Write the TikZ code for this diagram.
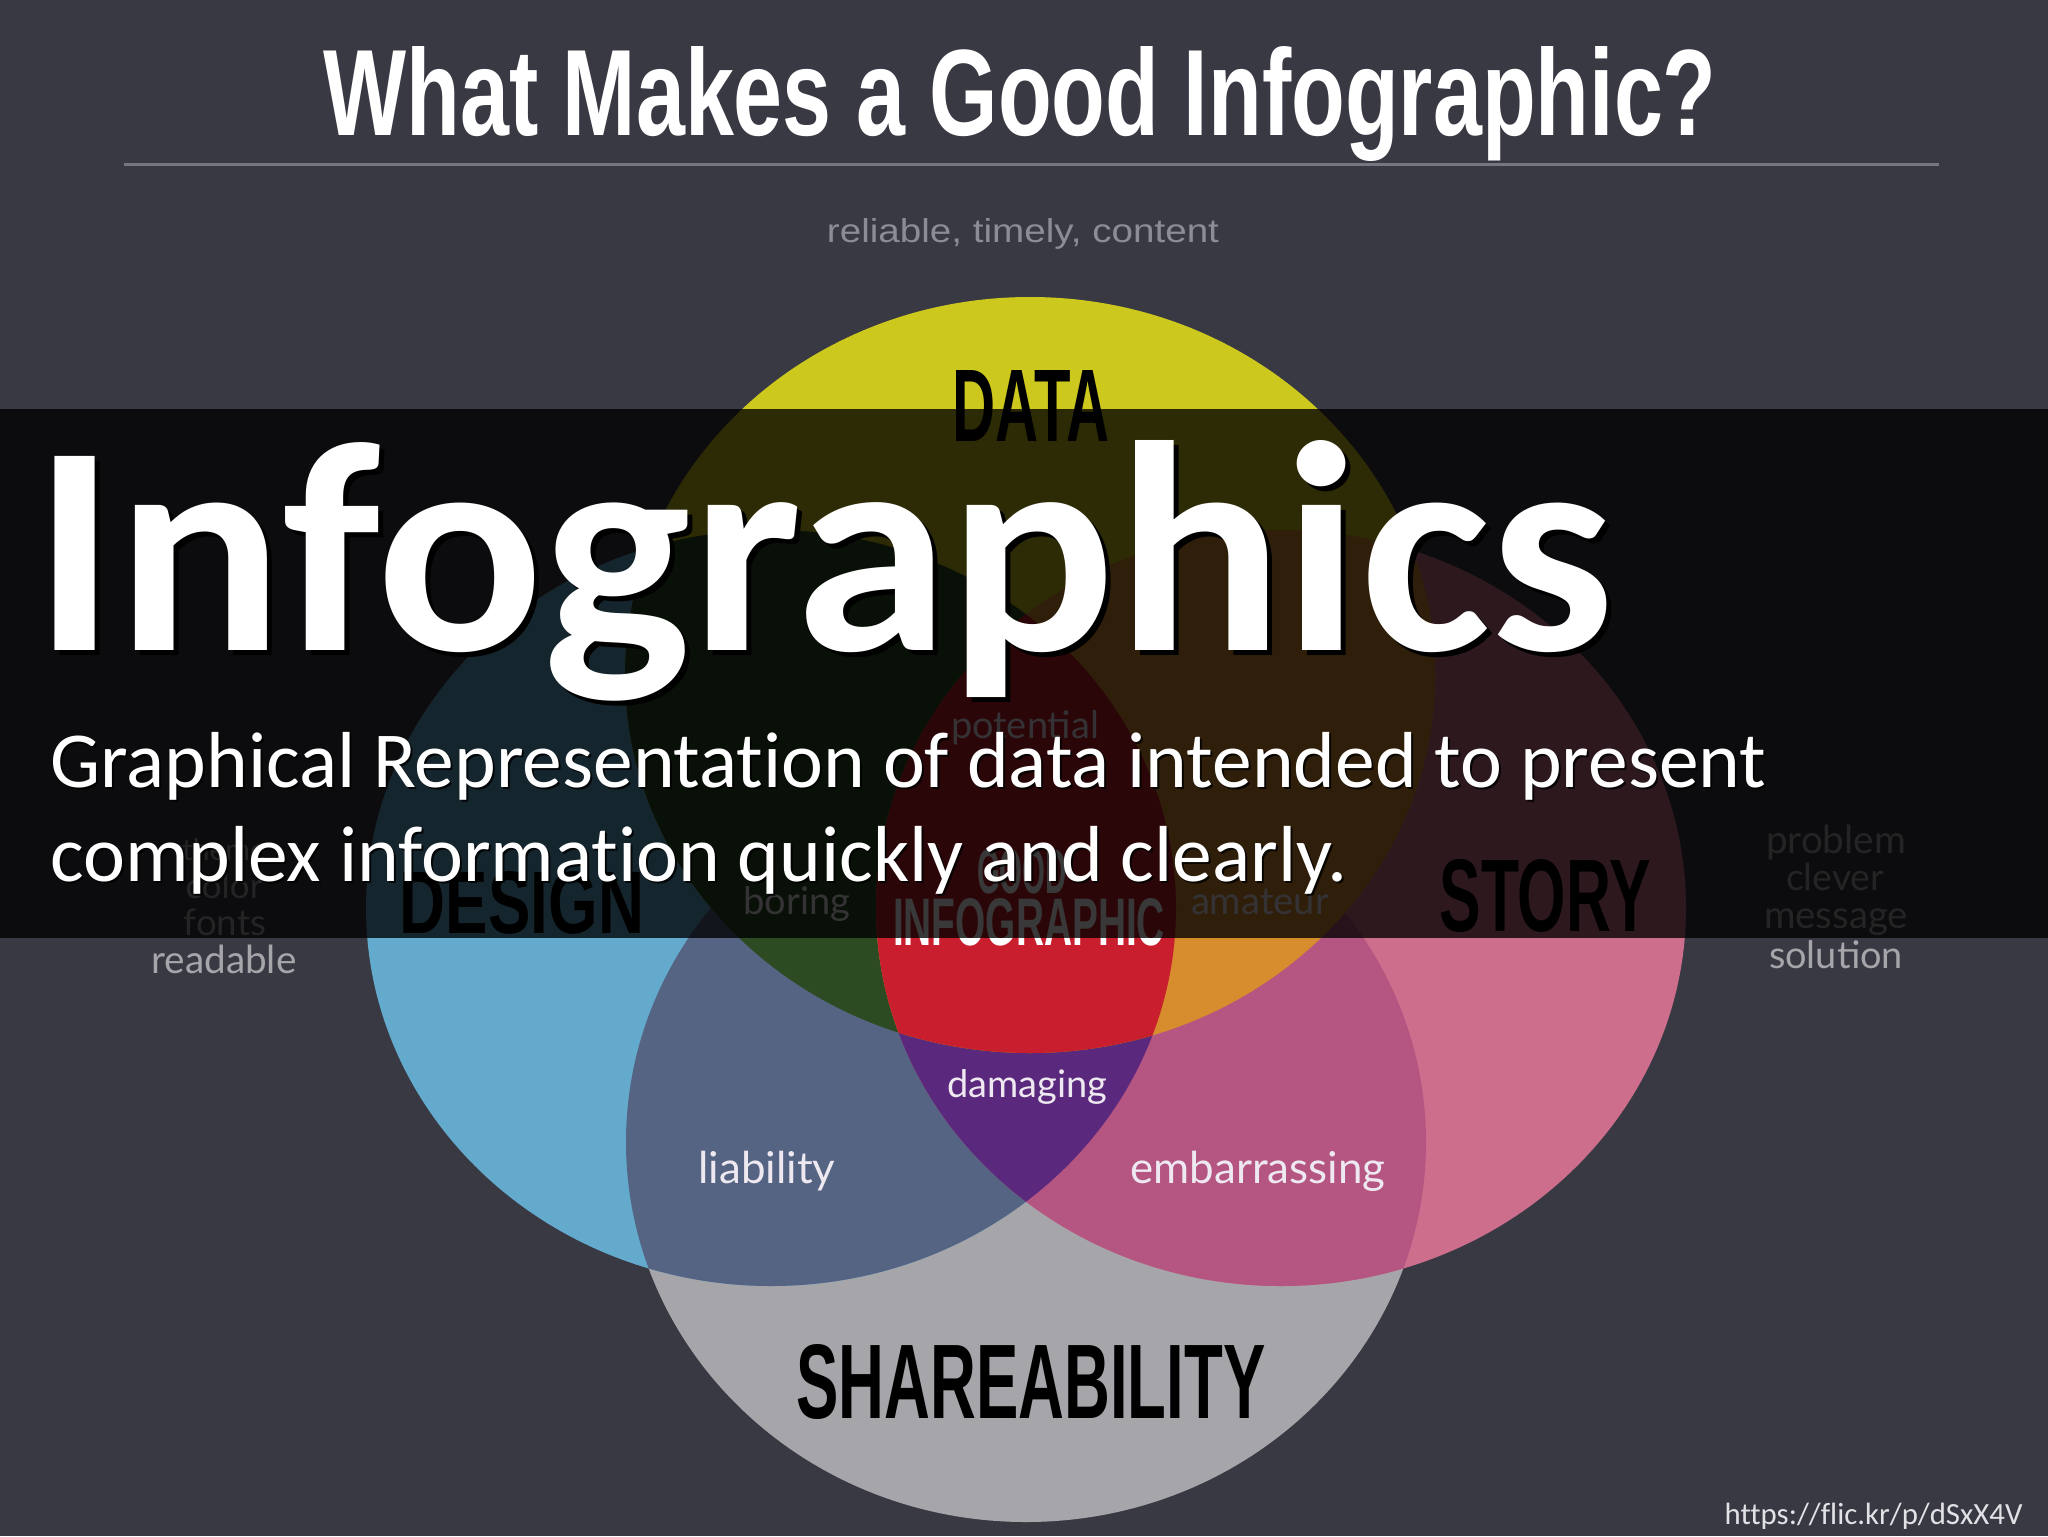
\documentclass[tikz,border=0pt]{standalone}
\usepackage{fontspec}
\usepackage{graphicx}
\setmainfont{Carlito}[Ligatures=NoCommon]
\newfontfamily\latofont{Lato}
\newfontfamily\condfont{Liberation Sans}
\definecolor{bgc}{RGB}{57,57,68}
\definecolor{rulec}{RGB}{118,118,128}
\definecolor{subc}{RGB}{140,140,150}
\definecolor{cyellow}{RGB}{205,200,30}
\definecolor{cblue}{RGB}{100,170,205}
\definecolor{cpink}{RGB}{205,110,140}
\definecolor{cgray}{RGB}{165,165,170}
\definecolor{cslate}{RGB}{85,100,130}
\definecolor{craspb}{RGB}{180,85,130}
\definecolor{cpurple}{RGB}{90,40,125}
\definecolor{cgreen}{RGB}{45,75,35}
\definecolor{corange}{RGB}{215,140,45}
\definecolor{cred}{RGB}{200,30,45}
\definecolor{sidec}{RGB}{165,165,170}
\definecolor{innerc}{RGB}{238,232,240}
\definecolor{urlc}{RGB}{225,225,230}
\newcommand{\mycondb}[3]{\resizebox{#1}{#2}{\condfont\bfseries #3}}
\newcommand{\mycondr}[3]{\resizebox{#1}{#2}{\condfont #3}}
\newcommand{\mylato}[2]{\resizebox{#1}{!}{\latofont #2}}
\tikzset{
  txt/.style={inner sep=0pt, anchor=base},
  txtw/.style={inner sep=0pt, anchor=base west},
  ell/.style={x radius=202.5pt, y radius=189pt},
  gell/.style={x radius=200pt, y radius=190pt},
}
\begin{document}
\begin{tikzpicture}[x=0.5pt,y=-0.5pt]
\useasboundingbox (0,0) rectangle (2048,1536);
\fill[bgc] (0,0) rectangle (2048,1536);

% title and rule
\node[txt, white] (title) at (1020,135) {\mycondb{696.5pt}{44.5pt}{What Makes a Good Infographic?}};
\coordinate (ruleL) at (124,164);
\coordinate (ruleR) at (1939,164);
\draw[rulec, line width=1.5pt] (ruleL) -- (ruleR);
\node[txt, subc] (reliable) at (1023,242) {\mycondr{196pt}{12pt}{reliable, timely, content}};

% Venn ellipses
\fill[cgray] (1026,1142) ellipse [gell];
\fill[cblue] (771,908) ellipse [ell];
\fill[cpink] (1281,908) ellipse [ell];
\fill[cyellow] (1030,675) ellipse [ell];
\begin{scope}
  \clip (771,908) ellipse [ell];
  \fill[cslate] (1026,1142) ellipse [gell];
\end{scope}
\begin{scope}
  \clip (1281,908) ellipse [ell];
  \fill[craspb] (1026,1142) ellipse [gell];
\end{scope}
\begin{scope}
  \clip (771,908) ellipse [ell];
  \fill[cpurple] (1281,908) ellipse [ell];
\end{scope}
\begin{scope}
  \clip (1030,675) ellipse [ell];
  \fill[cgreen] (771,908) ellipse [ell];
\end{scope}
\begin{scope}
  \clip (1030,675) ellipse [ell];
  \fill[corange] (1281,908) ellipse [ell];
\end{scope}
\begin{scope}
  \clip (1030,675) ellipse [ell];
  \clip (771,908) ellipse [ell];
  \fill[cred] (1281,908) ellipse [ell];
\end{scope}

% circle titles
\node[txt, black] (data) at (1031,441) {\mycondb{78.5pt}{35.5pt}{DATA}};
\node[txt, black] (design) at (522,933) {\mycondb{122pt}{31pt}{DESIGN}};
\node[txt, black] (story) at (1545,931) {\mycondb{105.5pt}{36pt}{STORY}};
\node[txt, black] (share) at (1031,1418) {\mycondb{234.5pt}{37pt}{SHAREABILITY}};
\node[txt, white] (good) at (1022,893) {\mycondb{45pt}{22pt}{GOOD}};
\node[txt, white] (infog) at (1029,945) {\mycondb{136pt}{23.5pt}{INFOGRAPHIC}};

% region labels
\node[txt, innerc] (potential) at (1025,738) {\mylato{74pt}{potential}};
\node[txt, innerc] (boring) at (797,914) {\mylato{53.5pt}{boring}};
\node[txt, innerc] (amateur) at (1260,914) {\mylato{69pt}{amateur}};
\node[txt, innerc] (damaging) at (1027,1097) {\mylato{80pt}{damaging}};
\node[txt, innerc] (liability) at (767,1183) {\mylato{68.5pt}{liability}};
\node[txt, innerc] (embarr) at (1258,1183) {\mylato{127.5pt}{embarrassing}};

% side labels
\node[txt, sidec] (theme) at (224,860) {\mylato{42pt}{theme}};
\node[txt, sidec] (color) at (224,898) {\mylato{38.5pt}{color}};
\node[txt, sidec] (fonts) at (225,935) {\mylato{41pt}{fonts}};
\node[txt, sidec] (readable) at (224,973) {\mylato{72.5pt}{readable}};
\node[txt, sidec] (problem) at (1836,853) {\mylato{70pt}{problem}};
\node[txt, sidec] (clever) at (1835,890) {\mylato{49pt}{clever}};
\node[txt, sidec] (message) at (1836,928) {\mylato{72pt}{message}};
\node[txt, sidec] (solution) at (1836,968) {\mylato{67pt}{solution}};

% dark band
\fill[black, opacity=0.78] (0,409) rectangle (2048,938);

% overlay texts
\node[txtw, black] (bigshadow) at (38,655) {\resizebox{789.5pt}{105pt}{\bfseries Infographics}};
\node[txtw, white] (big) at (33,650) {\resizebox{789.5pt}{105pt}{\bfseries Infographics}};
\node[txtw, black, opacity=0.8] (line1s) at (52,789) {\resizebox{858pt}{!}{\fontsize{37pt}{44pt}\selectfont Graphical Representation of data intended to present}};
\node[txtw, white] (line1) at (50,787) {\resizebox{858pt}{!}{\fontsize{37pt}{44pt}\selectfont Graphical Representation of data intended to present}};
\node[txtw, black, opacity=0.8] (line2s) at (52,883) {\resizebox{648.5pt}{!}{\fontsize{37pt}{44pt}\selectfont complex information quickly and clearly.}};
\node[txtw, white] (line2) at (50,881) {\resizebox{648.5pt}{!}{\fontsize{37pt}{44pt}\selectfont complex information quickly and clearly.}};

% credit
\node[inner sep=0pt, anchor=base east, urlc] (url) at (2023,1524) {\resizebox{149pt}{!}{https://flic.kr/p/dSxX4V}};
\end{tikzpicture}
\end{document}
